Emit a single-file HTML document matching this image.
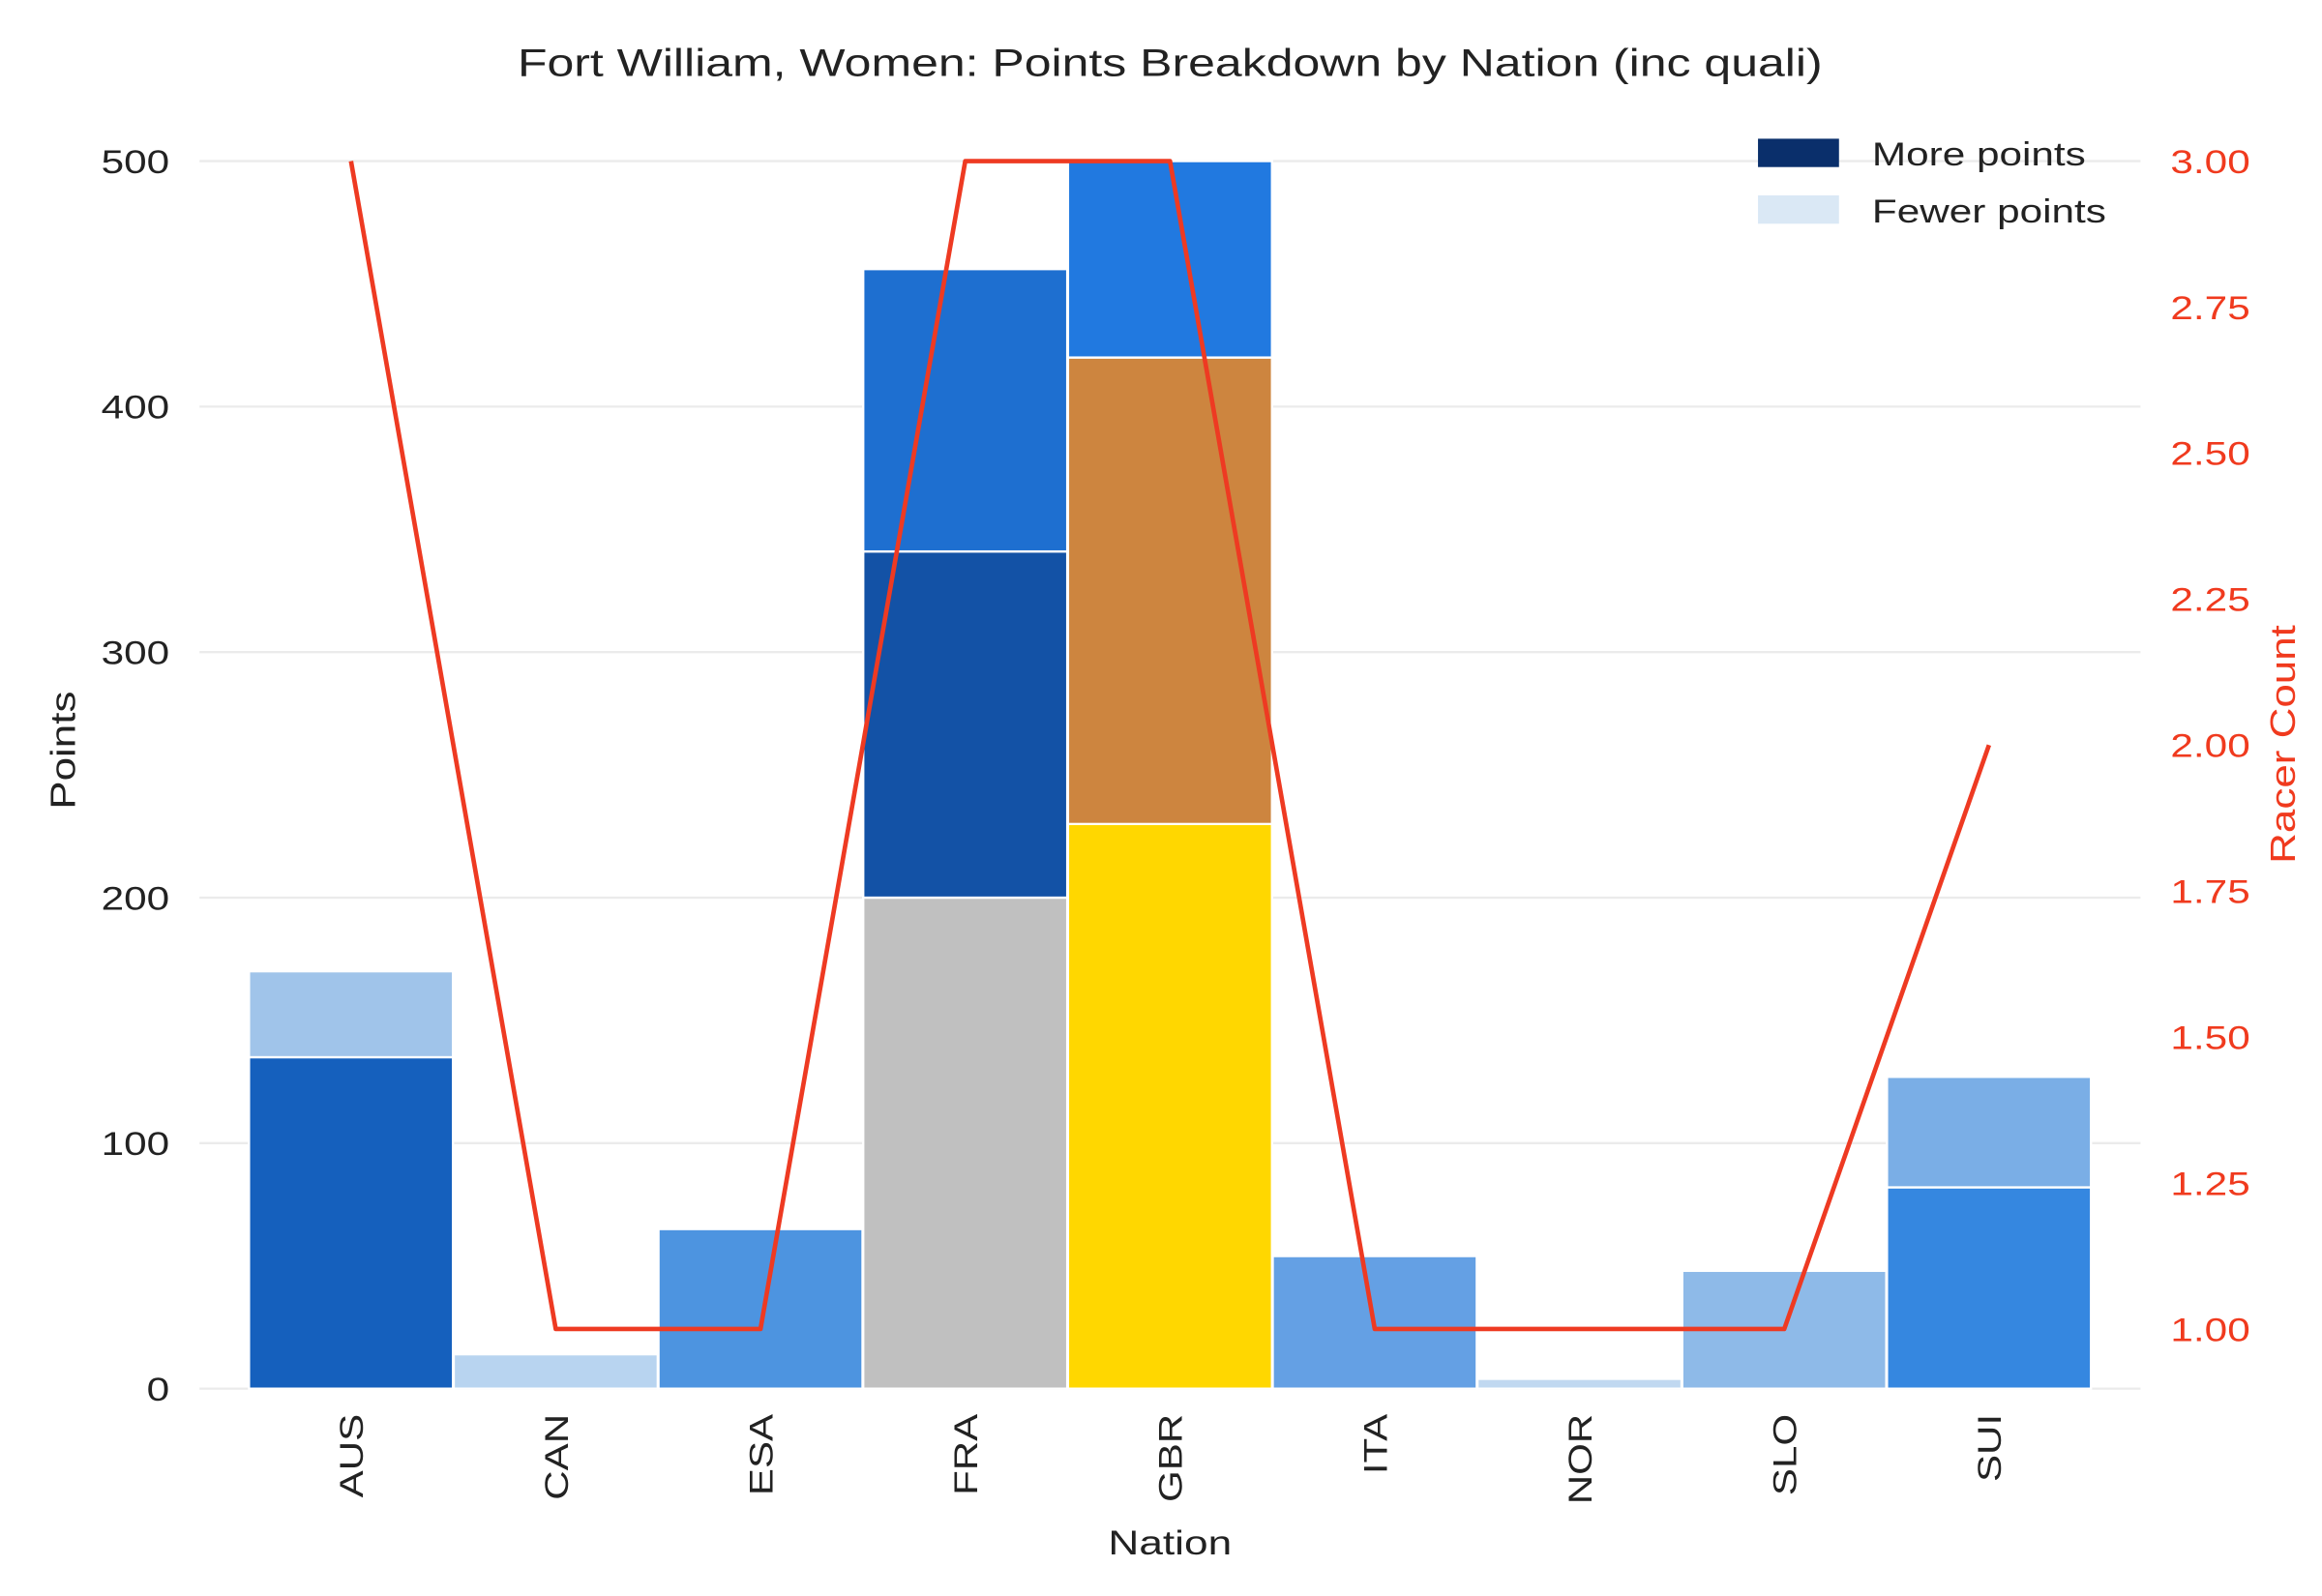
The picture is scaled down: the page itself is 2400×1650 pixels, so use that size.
<!DOCTYPE html>
<html><head><meta charset="utf-8"><style>
html,body{margin:0;padding:0;background:#fff;}
svg{display:block;font-family:"Liberation Sans",Arial,sans-serif;}
</style></head><body>
<svg width="2400" height="1650" viewBox="0 0 1548 1070" preserveAspectRatio="none" xmlns="http://www.w3.org/2000/svg">
<rect width="1548" height="1070" fill="#fff"/>
<g id="grid"></g>
<g id="bars"></g>
<g id="line"></g>
<g id="axes"></g>
<text class="w" x="780" y="51" font-size="26" text-anchor="middle" fill="#222">Fort William, Women: Points Breakdown by Nation (inc quali)</text>
<text class="w" x="780" y="1042" font-size="23" text-anchor="middle" fill="#222">Nation</text>
<text class="w" transform="translate(50,503) rotate(-90)" font-size="23" text-anchor="middle" fill="#222">Points</text>
<text class="w" transform="translate(1530,499) rotate(-90)" font-size="23" text-anchor="middle" fill="#f03a1e">Racer Count</text>
<g>
<rect x="1172" y="93" width="54" height="19" fill="#0a2f6b"/>
<text class="w" x="1248" y="111" font-size="22" fill="#222">More points</text>
<rect x="1172" y="131" width="54" height="19" fill="#dae8f5"/>
<text class="w" x="1248" y="149" font-size="22" fill="#222">Fewer points</text>
</g>
</svg>
<script>
const nations=["AUS","CAN","ESA","FRA","GBR","ITA","NOR","SLO","SUI"];
const seg1=[135,14,65,200,230,54,4,48,82];
const seg2=[35,0,0,141,190,0,0,0,45];
const seg3=[0,0,0,115,80,0,0,0,0];
const col1=["#1560bd","#b8d4f0","#4d94e0","#c0c0c0","#ffd700","#64a0e4","#c0d8f0","#8ebae8","#3587e0"];
const col2=["#a0c4ea","","","#1352a6","#cd853f","","","","#7aaee6"];
const col3=["","","","#1e6fd0","#2179e0","","","",""];
const racerCount=[3,1,1,3,3,1,1,1,2];
const yTicks=[0,100,200,300,400,500];
const y2Ticks=["1.00","1.25","1.50","1.75","2.00","2.25","2.50","2.75","3.00"];
const NS="http://www.w3.org/2000/svg";
const X0=234,STEP=136.5,BW=136;
const xs=i=>X0+i*STEP;
const ys=v=>931-v*(823/500);
const y2s=v=>891-(v-1)*391.5;
function mk(t,a,p){const e=document.createElementNS(NS,t);for(const k in a)e.setAttribute(k,a[k]);p.appendChild(e);return e;}
const grid=document.getElementById('grid'),bars=document.getElementById('bars'),line=document.getElementById('line'),axes=document.getElementById('axes');
yTicks.forEach(v=>{
const g=mk('line',{x1:133,x2:1427,y1:ys(v),y2:ys(v),stroke:'#ebebeb','stroke-width':1.5},grid);


const t=mk('text',{x:113,y:ys(v)+8,'font-size':22,'text-anchor':'end',fill:'#222','class':'w'},axes);
t.textContent=v;


});
y2Ticks.forEach(v=>{
const t=mk('text',{x:1447,y:y2s(+v)+8,'font-size':22,fill:'#f03a1e','class':'w'},axes);
t.textContent=v;


});
nations.forEach((n,i)=>{
let base=0;
[[seg1,col1],[seg2,col2],[seg3,col3]].forEach(([s,c],k)=>{
const v=s[i];if(!v)return;
const r=mk('rect',{x:xs(i)-BW/2,y:ys(base+v),width:BW,height:ys(base)-ys(base+v),fill:c[i],stroke:'#fff','stroke-width':1.5},bars);


base+=v;
});
const t=mk('text',{transform:`translate(${xs(i)+8},948) rotate(-90)`,'font-size':22,'text-anchor':'end',fill:'#222','class':'w'},axes);
t.textContent=n;


});
const pts=racerCount.map((c,i)=>xs(i)+','+y2s(c)).join(' ');
const pl=mk('polyline',{points:pts,fill:'none',stroke:'#ee3a22','stroke-width':3,'stroke-linejoin':'round'},line);


document.querySelectorAll('text.w').forEach(t=>{
const L=t.getComputedTextLength();
if(L>0){t.setAttribute('textLength',(L*1.24).toFixed(1));t.setAttribute('lengthAdjust','spacingAndGlyphs');}
});
</script>
</body></html>
